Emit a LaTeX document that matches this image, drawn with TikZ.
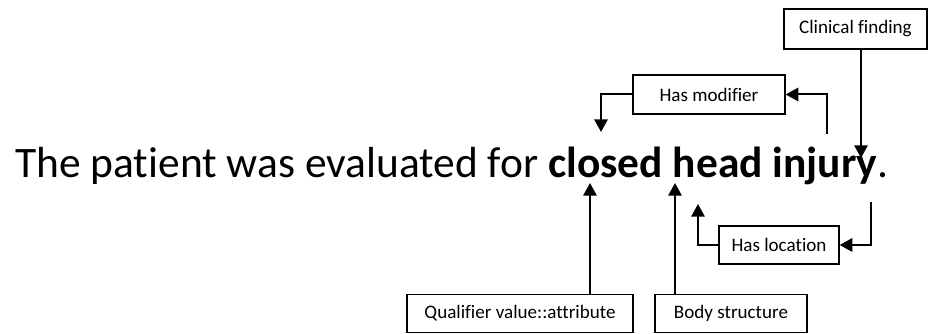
\documentclass[tikz,border=0pt]{standalone}
\usepackage{fontspec}
\setmainfont[Ligatures={NoCommon}]{Carlito}
\usetikzlibrary{arrows.meta}
\begin{document}
\begin{tikzpicture}[x=0.75pt,y=-0.75pt,
  label box/.style={draw=black,line width=0.9pt,rectangle,inner sep=0pt,
    font=\fontsize{14.3}{17}\selectfont},
  link/.style={line width=1.5pt,-{Triangle[width=10pt,length=9.5pt]}},
  sentence/.style={inner sep=0pt,anchor=base west,font=\fontsize{32.6}{39}\selectfont}]
\useasboundingbox (0,0) rectangle (929,334);

% the annotated sentence
\node[sentence] (sent) at (15,178) {The patient was evaluated for \textbf{closed head injury}.};

% concept boxes (sizes in pixel units of 0.75pt)
\node[label box,minimum width=143*0.75pt,minimum height=40*0.75pt] (cf) at (855.5,29) {Clinical finding};
\node[label box,minimum width=152*0.75pt,minimum height=39*0.75pt] (hm) at (709,94.5) {Has modifier};
\node[label box,minimum width=120*0.75pt,minimum height=38*0.75pt] (hl) at (779,245) {Has location};
\node[label box,minimum width=226*0.75pt,minimum height=38.5*0.75pt] (qv) at (520,313.5) {Qualifier value::attribute};
\node[label box,minimum width=152*0.75pt,minimum height=38.5*0.75pt] (bs) at (731,313.5) {Body structure};

% arrow ends at the words
\coordinate (tipInjury) at (861,158);
\coordinate (tipClosed) at (590,183);
\coordinate (tipHead) at (675,183);
\coordinate (modFrom) at (827,134);
\coordinate (modTo) at (601,132);
\coordinate (locFrom) at (871,202);
\coordinate (locTo) at (698,204);

% connectors
\draw[link] (cf.south -| tipInjury) -- (tipInjury);
\draw[link] (modFrom) |- (hm.east);
\draw[link] (hm.west) -| (modTo);
\draw[link] (locFrom) |- (hl.east);
\draw[link] (hl.west) -| (locTo);
\draw[link] (qv.north -| tipClosed) -- (tipClosed);
\draw[link] (bs.north -| tipHead) -- (tipHead);
\end{tikzpicture}
\end{document}
